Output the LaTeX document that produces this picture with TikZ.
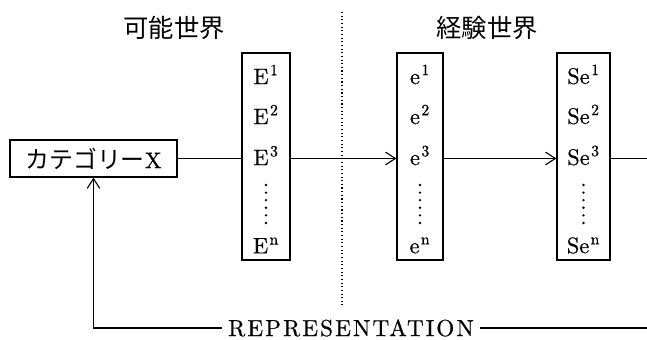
\documentclass[tikz,border=0pt]{standalone}
\usepackage{fontspec}
\newfontfamily\jafont{Noto Sans CJK JP}
\newfontfamily\lmfont[FakeBold=0.6]{lmroman10-regular.otf}
\newcommand\bigfont{\lmfont\fontsize{16}{18}\selectfont}
\newcommand\sups[1]{\kern1pt\textsuperscript{#1}}
\usetikzlibrary{positioning}
\usetikzlibrary{arrows.meta}

\begin{document}
\begin{tikzpicture}[x=0.025cm,y=0.025cm,
 jatext/.style={font=\jafont\fontsize{18}{20}\selectfont},
 col/.style={draw,line width=0.8pt,minimum height=5.175cm,inner sep=0pt},
 entry/.style={inner sep=0pt,font=\bigfont},
 link/.style={line width=0.8pt},
 arr/.style={line width=0.8pt,-{Straight Barb[length=7pt,width=9pt]}}]
 \useasboundingbox (0,0) rectangle (647,340);
 \node[jatext] (possible) at (174,312) {可能世界};
 \node[jatext] (experience) at (487,312) {経験世界};
 \draw[line width=0.8pt,dash pattern=on 0.8pt off 1.8pt] (342,328) -- (342,35);
 \node[draw,line width=0.8pt,minimum width=4.175cm,minimum height=0.925cm,inner sep=0pt,font=\bigfont] (catx) at (93.5,181.5) {{\jafont\fontsize{17}{20}\selectfont カテゴリー}X};
 \node[col,minimum width=1.2cm] (Ecol) at (266,183.5) {};
 \node[col,minimum width=1.15cm] (ecol) at (420,183.5) {};
 \node[col,minimum width=1.325cm] (Secol) at (583.5,183.5) {};
 \node[entry] (E1) at (266,265.5) {E\sups{1}};
 \node[entry] (E2) at (266,225.5) {E\sups{2}};
 \node[entry] (E3) at (266,184.5) {E\sups{3}};
 \node[entry] (En) at (266,94.5) {E\sups{n}};
 \node[entry] (e1) at (420,265.5) {e\sups{1}};
 \node[entry] (e2) at (420,225.5) {e\sups{2}};
 \node[entry] (e3) at (420,184.5) {e\sups{3}};
 \node[entry] (en) at (420,94.5) {e\sups{n}};
 \node[entry] (Se1) at (583.5,265.5) {Se\sups{1}};
 \node[entry] (Se2) at (583.5,225.5) {Se\sups{2}};
 \node[entry] (Se3) at (583.5,184.5) {Se\sups{3}};
 \node[entry] (Sen) at (583.5,94.5) {Se\sups{n}};
 \foreach \k in {0,...,5} \fill (266,155-\k*7.6) circle (1.3);
 \foreach \k in {0,...,5} \fill (420,155-\k*7.6) circle (1.3);
 \foreach \k in {0,...,5} \fill (583.5,155-\k*7.6) circle (1.3);
 \draw[link] (catx.east) -- (catx.east -| Ecol.west);
 \draw[arr] (Ecol.east |- catx.east) -- (ecol.west |- catx.east);
 \draw[arr] (ecol.east |- catx.east) -- (Secol.west |- catx.east);
 \coordinate (out) at (647,181.5);
 \draw[link] (Secol.east |- catx.east) -- (out);
 \node[font=\lmfont\fontsize{16.5}{18}\selectfont,inner xsep=4pt] (rep) at (351,12) {\addfontfeature{LetterSpace=9}REPRESENTATION};
 \coordinate (back) at (647,12);
 \draw[link] (back) -- (rep.east);
 \draw[arr] (rep.west) -| (catx.south);
\end{tikzpicture}
\end{document}
